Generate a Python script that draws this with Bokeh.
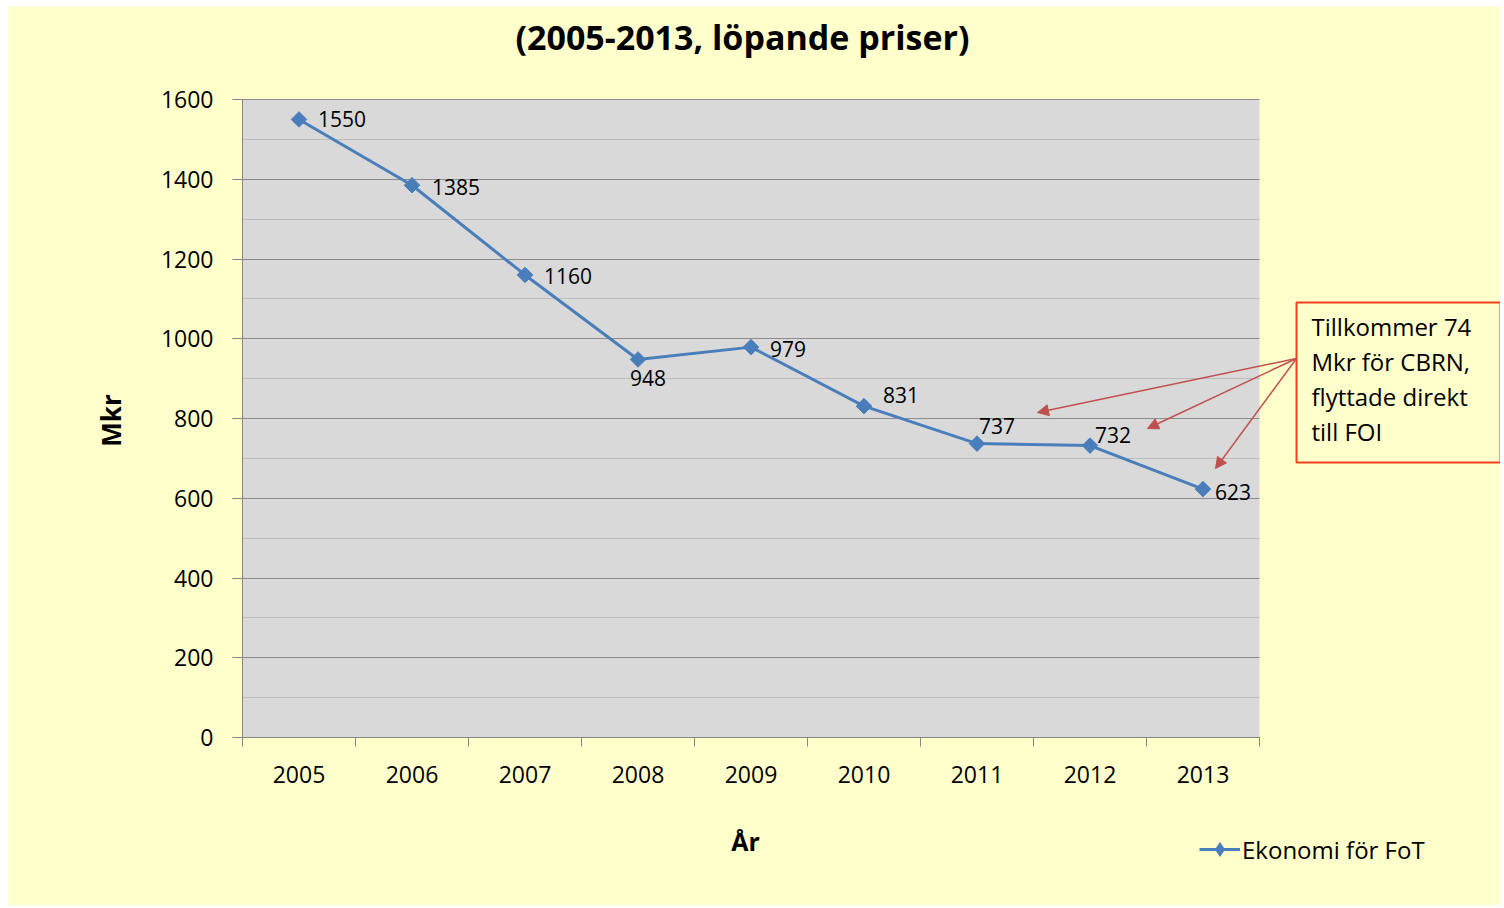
import numpy as np
from bokeh.plotting import figure
from bokeh.models import Range1d, FixedTicker, Label, Arrow, NormalHead, ColumnDataSource, BoxAnnotation
from bokeh.core.properties import value
from bokeh.embed import file_html
from bokeh.resources import INLINE

# ---- data ----
years = [2005, 2006, 2007, 2008, 2009, 2010, 2011, 2012, 2013]
values = [1550, 1385, 1160, 948, 979, 831, 737, 732, 623]
y_ticks = [0, 200, 400, 600, 800, 1000, 1200, 1400, 1600]
title_text = "(2005-2013, löpande priser)"
y_title = "Mkr"
x_title = "År"
series_name = "Ekonomi för FoT"
note_text = "Tillkommer 74\nMkr för CBRN,\nflyttade direkt\ntill FOI"

# ---- layout (page pixels) and styles ----
FONT = "Open Sans"
BLUE = "#4a7ebb"
YELLOW = "#ffffcc"
CANVAS_L, CANVAS_T, CANVAS_R, CANVAS_B = 8, 6, 1500, 905
PLOT_L, PLOT_T, PLOT_R, PLOT_B = 242, 99, 1259, 737
X0, X1 = years[0] - 0.5, years[-1] + 0.5
Y0, Y1 = y_ticks[0], y_ticks[-1]
label_dx = [19, 20, 19, -8, 19, 19, 2, 5, 12]
label_dy = [0, -2, -1, -19, -2, 11, 18, 11, -3]


def dx(px):
    return X0 + (px - PLOT_L) * (X1 - X0) / (PLOT_R - PLOT_L)


def dy(py):
    return Y0 + (PLOT_B - py) * (Y1 - Y0) / (PLOT_B - PLOT_T)


W, H = CANVAS_R - CANVAS_L, CANVAS_B - CANVAS_T
p = figure(width=W, height=H, output_backend="svg", toolbar_location=None,
           x_range=Range1d(dx(CANVAS_L), dx(CANVAS_R)),
           y_range=Range1d(dy(CANVAS_B), dy(CANVAS_T)),
           min_border=0, min_border_left=0, min_border_right=0,
           min_border_top=0, min_border_bottom=0)
p.margin = (CANVAS_T, 4, 3, CANVAS_L)
p.background_fill_color = YELLOW
p.border_fill_color = YELLOW
p.outline_line_color = None

# plot area background
p.quad(left=[X0], right=[X1], bottom=[Y0], top=[Y1], fill_color="#d9d9d9",
       line_color=None, level="image")

# x axis
bounds = [y - 0.5 for y in years] + [years[-1] + 0.5]
xa = p.xaxis[0]
xa.fixed_location = Y0
xa.bounds = (X0, X1)
xa.ticker = FixedTicker(ticks=years, minor_ticks=bounds)
xa.formatter.use_scientific = False
xa.major_tick_out = 0
xa.major_tick_in = 0
xa.minor_tick_out = 9
xa.minor_tick_in = 0
xa.minor_tick_line_color = "#868686"
xa.axis_line_color = "#868686"
xa.major_label_standoff = 19
xa.major_label_text_font = FONT
xa.major_label_text_font_size = "23px"
xa.major_label_text_color = "#000000"

# y axis
ya = p.yaxis[0]
ya.fixed_location = X0
ya.bounds = (Y0, Y1)
ya.ticker = FixedTicker(ticks=y_ticks)
ya.major_tick_out = 10
ya.major_tick_in = 0
ya.minor_tick_out = 0
ya.minor_tick_in = 0
ya.major_tick_line_color = "#868686"
ya.axis_line_color = "#868686"
ya.major_label_standoff = 19
ya.major_label_text_font = FONT
ya.major_label_text_font_size = "23px"
ya.major_label_text_color = "#000000"

# grid (limited to the plot area)
mids = [(a + b) / 2 for a, b in zip(y_ticks[:-1], y_ticks[1:])]
p.xgrid.grid_line_color = None
g = p.ygrid[0]
if "cross_bounds" in g.properties():
    g.ticker = FixedTicker(ticks=y_ticks, minor_ticks=mids)
    g.cross_bounds = (X0, X1)
    g.grid_line_color = "#8c8c8c"
    g.minor_grid_line_color = "#bdbdbd"
else:
    g.grid_line_color = None
    p.segment(x0=[X0] * len(mids), x1=[X1] * len(mids), y0=mids, y1=mids,
              line_color="#bdbdbd", line_width=1, level="underlay")
    p.segment(x0=[X0] * len(y_ticks), x1=[X1] * len(y_ticks), y0=y_ticks, y1=y_ticks,
              line_color="#8c8c8c", line_width=1, level="underlay")

# series
p.line(years, values, line_color=BLUE, line_width=3, legend_label=series_name)
p.scatter(years, values, marker="square", angle=np.pi / 4, size=11,
          fill_color=BLUE, line_color=BLUE)
# diamond shown in the legend only (legend glyphs ignore marker rotation);
# its single point is NaN so nothing is drawn in the plot area
p.scatter(x=[np.nan], y=[np.nan], marker="diamond", size=15, fill_color=BLUE,
          line_color=BLUE, legend_label=series_name)

src = ColumnDataSource(dict(x=years, y=values, t=[str(v) for v in values],
                            ox=label_dx, oy=[-d for d in label_dy]))
p.text(x="x", y="y", text="t", x_offset="ox", y_offset="oy", source=src,
       text_font=value(FONT), text_font_size="21px", text_color="#000000",
       text_align="left", text_baseline="middle")

# legend
lg = p.legend[0]
lg.location = (1191, 39)
lg.label_text_font = FONT
lg.label_text_font_size = "24px"
lg.label_text_color = "#000000"
lg.label_standoff = 2
lg.glyph_width = 41
lg.glyph_height = 34
lg.padding = 0
lg.margin = 0
lg.spacing = 0
lg.border_line_color = None
lg.background_fill_alpha = 0

# title and axis titles
p.add_layout(Label(x=dx(742), y=dy(36), text=title_text, text_font=FONT,
                   text_font_style="bold", text_font_size="34px", text_color="#000000",
                   text_align="center", text_baseline="middle"))
p.add_layout(Label(x=dx(110), y=dy(420), text=y_title, angle=np.pi / 2,
                   text_font=FONT, text_font_style="bold", text_font_size="26px",
                   text_color="#000000", text_align="center", text_baseline="middle"))
p.add_layout(Label(x=dx(745), y=dy(840), text=x_title, text_font=FONT,
                   text_font_style="bold", text_font_size="25px", text_color="#000000",
                   text_align="center", text_baseline="middle"))

# note box
p.add_layout(BoxAnnotation(left=dx(1296), right=dx(1500), top=dy(302), bottom=dy(462),
                           fill_color=YELLOW, fill_alpha=1.0,
                           line_color="#f5401c", line_width=2, line_alpha=1.0,
                           level="annotation"))
p.add_layout(Label(x=dx(1311), y=dy(309), text=note_text, text_font=FONT,
                   text_font_size="24px", text_color="#000000", text_align="left",
                   text_baseline="top", text_line_height=1.07))

# arrows from note box
ax0, ay0 = dx(1296), dy(358)
for ex, ey in [(1037, 412), (1147, 428), (1215, 468)]:
    p.add_layout(Arrow(x_start=ax0, y_start=ay0, x_end=dx(ex), y_end=dy(ey),
                       line_color="#c0504d", line_width=1.5,
                       end=NormalHead(size=11, fill_color="#c0504d",
                                      line_color="#c0504d")))

open("out.html", "w").write(file_html(p, INLINE))
